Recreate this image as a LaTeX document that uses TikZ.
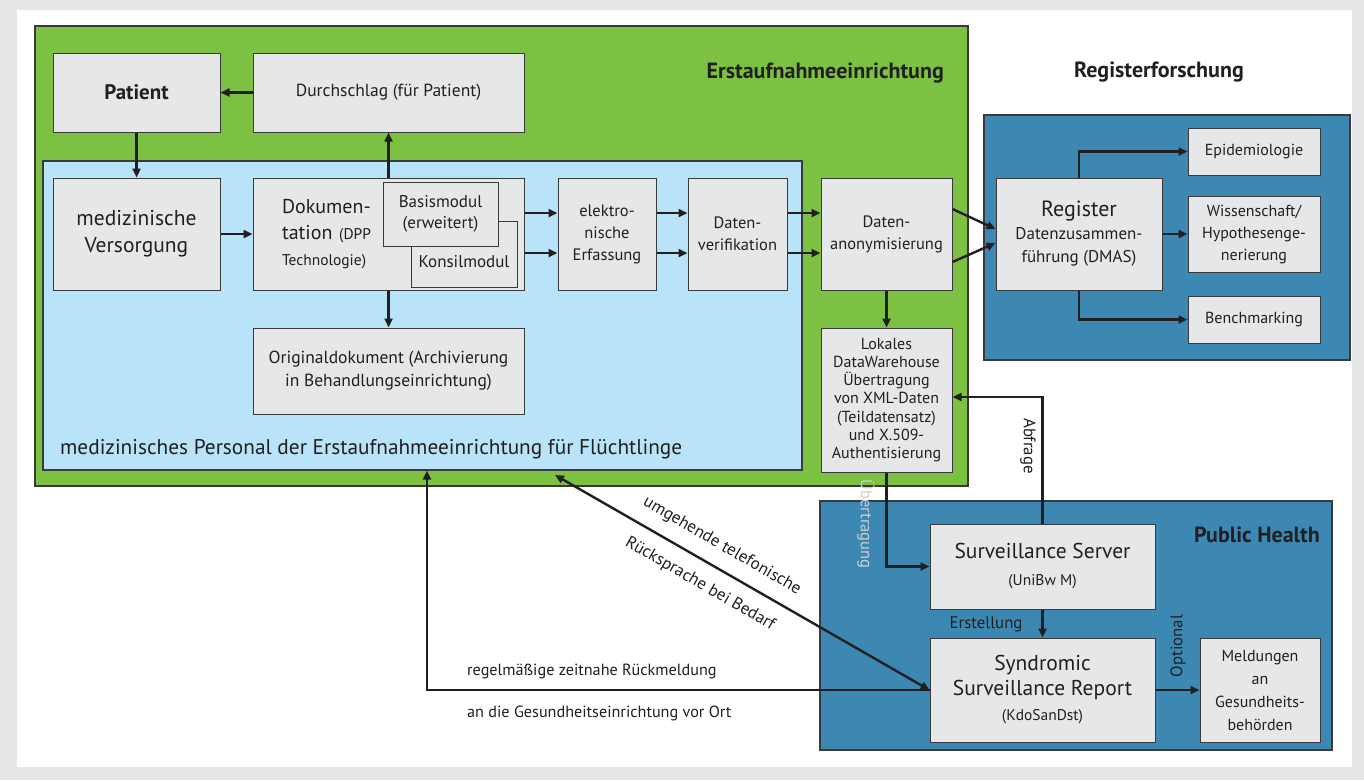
\documentclass[tikz,border=0pt]{standalone}
\usepackage{fontspec}
\setmainfont{PT Sans}
\usetikzlibrary{arrows.meta,calc}
\definecolor{bggray}{HTML}{E6E7E9}
\definecolor{ggreen}{HTML}{7DC142}
\definecolor{lblue}{HTML}{B8E3F8}
\definecolor{dblue}{HTML}{3C88B3}
\definecolor{boxfill}{HTML}{E6E7E8}
\definecolor{ink}{HTML}{231F20}
\definecolor{edge}{HTML}{3A3A3C}
\definecolor{ghost}{HTML}{CFCFCF}
\newcommand{\fsz}[2]{\fontsize{#1}{#2}\selectfont}
\tikzset{
  box/.style={draw=edge, line width=1pt, fill=boxfill, text=ink, align=center, inner sep=2pt, font=\fsz{16.5}{20}},
  region/.style={draw=edge, line width=1.2pt, inner sep=0pt},
  arr/.style={draw=ink, line width=2.4pt, -{Triangle[length=9pt,width=8pt]}},
  arrboth/.style={draw=ink, line width=2.4pt, {Triangle[length=9pt,width=8pt]}-{Triangle[length=9pt,width=8pt]}},
  lbl/.style={text=ink, font=\fsz{16.8}{20}, inner sep=0pt},
  head/.style={text=ink, font=\bfseries\fsz{22}{26}, inner sep=0pt}
}
\begin{document}
\begin{tikzpicture}[x=1pt,y=-1pt]
% background
\fill[bggray] (0,0) rectangle (1364,780);
\useasboundingbox (0,0) rectangle (1364,780);
\fill[white] (17,10) rectangle (1352,767);

% regions
\node[region, fill=ggreen, minimum width=933pt, minimum height=460pt] (erst) at (501.5,256) {};
\node[region, fill=lblue, minimum width=759pt, minimum height=309pt] (staff) at (422.5,315.5) {};
\node[region, fill=dblue, minimum width=366pt, minimum height=245pt] (regbox) at (1167,237.5) {};
\node[region, fill=dblue, minimum width=512pt, minimum height=249pt] (phbox) at (1076,625.5) {};

% headings
\node[head, anchor=east] (h1) at (944,73) {Erstaufnahmeeinrichtung};
\node[head] (h2) at (1159,72) {Registerforschung};
\node[head, anchor=east] (h3) at (1320,535) {Public Health};
\node[text=ink, font=\fsz{21.3}{25}, inner sep=0pt, anchor=west] (h4) at (60,449) {medizinisches Personal der Erstaufnahmeeinrichtung für Flüchtlinge};

% boxes
\node[box, minimum width=167pt, minimum height=79pt, font=\bfseries\fsz{21}{25}] (patient) at (136.5,92.5) {Patient};
\node[box, minimum width=271pt, minimum height=79pt, font=\fsz{17.5}{21}] (durch) at (388.5,92.5) {Durchschlag (für Patient)};
\node[box, minimum width=167pt, minimum height=112pt, font=\fsz{21.5}{27}] (versorg) at (136.5,234) {medizinische\\Versorgung};
\node[box, minimum width=271pt, minimum height=112pt, text width=213pt, align=left, font=\fsz{20}{26}] (doku) at (388.5,234) {Dokumen-\\tation {\fsz{15.5}{23}(DPP}\\{\fsz{15.5}{23}Technologie)}};
\node[box, minimum width=106pt, minimum height=66pt, label={[lbl, font=\fsz{17}{20}, yshift=-8pt]center:Konsilmodul}] (konsil) at (464,254) {};
\node[box, minimum width=115pt, minimum height=64pt, font=\fsz{17}{21}] (basis) at (440.5,214) {Basismodul\\(erweitert)};
\node[box, minimum width=98pt, minimum height=112pt, font=\fsz{16.5}{22}] (erfass) at (607,234) {elektro-\\nische\\Erfassung};
\node[box, minimum width=99pt, minimum height=112pt, font=\fsz{16.5}{22}] (verif) at (737.5,234) {Daten-\\verifikation};
\node[box, minimum width=131pt, minimum height=112pt, font=\fsz{16.5}{22}] (anon) at (886.5,234) {Daten-\\anonymisierung};
\node[box, minimum width=271pt, minimum height=86pt, font=\fsz{17.5}{23}] (orig) at (388.5,371) {Originaldokument (Archivierung\\in Behandlungseinrichtung)};
\node[box, minimum width=131pt, minimum height=144pt, font=\fsz{16}{18.3}] (lokal) at (886.5,400) {Lokales\\DataWarehouse\\Übertragung\\von XML-Daten\\(Teildatensatz)\\und X.509-\\Authentisierung};

\node[box, minimum width=166pt, minimum height=112pt, font=\fsz{17}{23}] (reg) at (1079,234) {{\fsz{22}{27}Register}\\Datenzusammen-\\führung (DMAS)};
\node[box, minimum width=132pt, minimum height=47pt, font=\fsz{16}{20}] (epi) at (1254,151.5) {Epidemiologie};
\node[box, minimum width=132pt, minimum height=76pt, font=\fsz{16}{22}] (wiss) at (1254,234) {Wissenschaft/\\Hypothesenge-\\nerierung};
\node[box, minimum width=132pt, minimum height=47pt, font=\fsz{16}{20}] (bench) at (1254,319.5) {Benchmarking};

\node[box, minimum width=225pt, minimum height=85pt, font=\fsz{21.5}{27}] (server) at (1042.5,566.5) {Surveillance Server\\{\fsz{15.5}{19}(UniBw M)}};
\node[box, minimum width=225pt, minimum height=104pt, font=\fsz{21.5}{25}] (syndr) at (1042.5,690) {Syndromic\\Surveillance Report\\{\fsz{15.5}{19}(KdoSanDst)}};
\node[box, minimum width=120pt, minimum height=104pt, font=\fsz{16}{23}] (meld) at (1260,690) {Meldungen\\an\\Gesundheits-\\behörden};

% connectors
\draw[arr] (durch.west) -- (patient.east);
\draw[arr] (patient.south) -- (versorg.north);
\draw[arr] (doku.north) -- (durch.south);
\draw[arr] (versorg.east) -- (doku.west);
\draw[arr] ([yshift=21pt]doku.east) -- ([yshift=21pt]erfass.west);
\draw[arr] ([yshift=-19pt]doku.east) -- ([yshift=-19pt]erfass.west);
\draw[arr] ([yshift=21pt]erfass.east) -- ([yshift=21pt]verif.west);
\draw[arr] ([yshift=-19pt]erfass.east) -- ([yshift=-19pt]verif.west);
\draw[arr] ([yshift=21pt]verif.east) -- ([yshift=21pt]anon.west);
\draw[arr] ([yshift=-19pt]verif.east) -- ([yshift=-19pt]anon.west);
\draw[arr] ([yshift=25pt]anon.east) -- ([yshift=5pt]reg.west);
\draw[arr] ([yshift=-28pt]anon.east) -- ([yshift=-9pt]reg.west);
\draw[arr] (anon.south) -- (lokal.north);
\draw[arr] (doku.south) -- (orig.north);
\draw[arr] (reg.north) |- (epi.west);
\draw[arr] (reg.east) -- (wiss.west);
\draw[arr] (reg.south) |- (bench.west);
\draw[arr] (lokal.south) |- (server.west);
\draw[arr] (server.north) |- ([yshift=3pt]lokal.east);
\draw[arr] (server.south) -- (syndr.north);
\draw[arr] (syndr.east) -- (meld.west);
\coordinate (rk) at (427,690);
\coordinate (tel) at (555,475);
\draw[arr] (syndr.west) -- (rk) -- (rk |- staff.south);
\draw[arrboth] (tel) -- (syndr.west);

% connector labels
\node[lbl, rotate=-90, text=ghost, font=\fsz{16.5}{20}] (l1) at (866,524) {Übertragung};
\node[lbl, rotate=-90] (l2) at (1028,446) {Abfrage};
\node[lbl] (l3) at (986,624) {Erstellung};
\node[lbl, rotate=90] (l4) at (1178,646) {Optional};
\node[lbl, anchor=west, font=\fsz{16.2}{20}] (l5) at (467,671) {regelmäßige zeitnahe Rückmeldung};
\node[lbl, anchor=west, font=\fsz{16.2}{20}] (l6) at (467,713) {an die Gesundheitseinrichtung vor Ort};
\node[lbl, rotate=-30, font=\fsz{17}{20}] (l7) at (722,546) {umgehende telefonische};
\node[lbl, rotate=-30, font=\fsz{17}{20}] (l8) at (700,584) {Rücksprache bei Bedarf};
\end{tikzpicture}
\end{document}
